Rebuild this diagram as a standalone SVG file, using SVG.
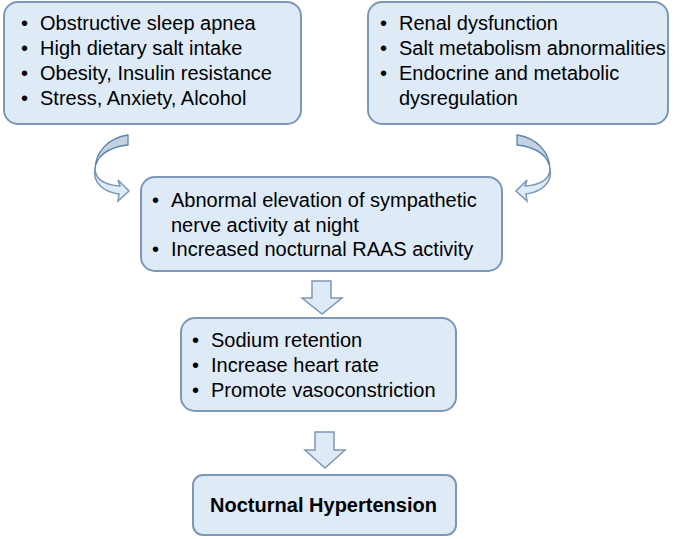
<svg xmlns="http://www.w3.org/2000/svg" width="685" height="539" viewBox="0 0 685 539">
<style>
.box{fill:#deebf7;stroke:#7c98b6;stroke-width:2}
.t{font-family:"Liberation Sans",Arial,sans-serif;font-size:20px;fill:#000}
.ar{fill:#deebf7;stroke:#7c98b6;stroke-width:1.5;stroke-linejoin:miter}
.cv{fill:#c3d2e0;stroke:#5f82a8;stroke-width:1.3}
</style>
<rect width="685" height="539" fill="#fff"/>
<g id="n1"><rect class="box" x="4" y="2" width="297" height="122" rx="14"/>
<text class="t" x="21" y="30">•</text><text class="t" x="40" y="30">Obstructive sleep apnea</text>
<text class="t" x="21" y="55">•</text><text class="t" x="40" y="55">High dietary salt intake</text>
<text class="t" x="21" y="80">•</text><text class="t" x="40" y="80">Obesity, Insulin resistance</text>
<text class="t" x="21" y="105">•</text><text class="t" x="40" y="105">Stress, Anxiety, Alcohol</text></g>
<g id="n2"><rect class="box" x="368" y="2" width="300" height="122" rx="14"/>
<text class="t" x="380" y="30">•</text><text class="t" x="399" y="30">Renal dysfunction</text>
<text class="t" x="380" y="55">•</text><text class="t" x="399" y="55">Salt metabolism abnormalities</text>
<text class="t" x="380" y="80">•</text><text class="t" x="399" y="80">Endocrine and metabolic</text>
<text class="t" x="399" y="105">dysregulation</text></g>
<g id="n3"><rect class="box" x="141" y="177" width="361" height="94" rx="14"/>
<text class="t" x="152" y="207">•</text><text class="t" x="171" y="207">Abnormal elevation of sympathetic</text>
<text class="t" x="171" y="232">nerve activity at night</text>
<text class="t" x="152" y="256">•</text><text class="t" x="171" y="256">Increased nocturnal RAAS activity</text></g>
<g id="n4"><rect class="box" x="181" y="318" width="275" height="93" rx="14"/>
<text class="t" x="192" y="347">•</text><text class="t" x="211" y="347">Sodium retention</text>
<text class="t" x="192" y="372">•</text><text class="t" x="211" y="372">Increase heart rate</text>
<text class="t" x="192" y="397">•</text><text class="t" x="211" y="397">Promote vasoconstriction</text></g>
<g id="n5"><rect class="box" x="193" y="475" width="263" height="60" rx="10"/>
<text class="t" x="210" y="512" font-weight="bold" textLength="227" lengthAdjust="spacingAndGlyphs">Nocturnal Hypertension</text></g>
<g id="connectors">
<path class="ar" d="M312,281 H331 V298 H342 L322,314 L302,298 H312 Z"/>
<path class="ar" d="M315,432 H334 V450 H345 L325,468 L305,450 H315 Z"/>
<path class="cv" d="M128,135 V145 C108,147 95,157 95,170 C95,152 108,138 128,135 Z"/>
<path class="ar" d="M95,168 C95,180 105,185 120,186 L118,180 L129,191 L118,201 L119,194 C103,192 92,182 95,168 Z"/>
<path class="cv" d="M517,135 V145 C537,147 550,157 550,170 C550,152 537,138 517,135 Z"/>
<path class="ar" d="M550,168 C550,180 540,185 525,186 L527,180 L516,191 L527,201 L526,194 C542,192 553,182 550,168 Z"/>
</g>
</svg>
